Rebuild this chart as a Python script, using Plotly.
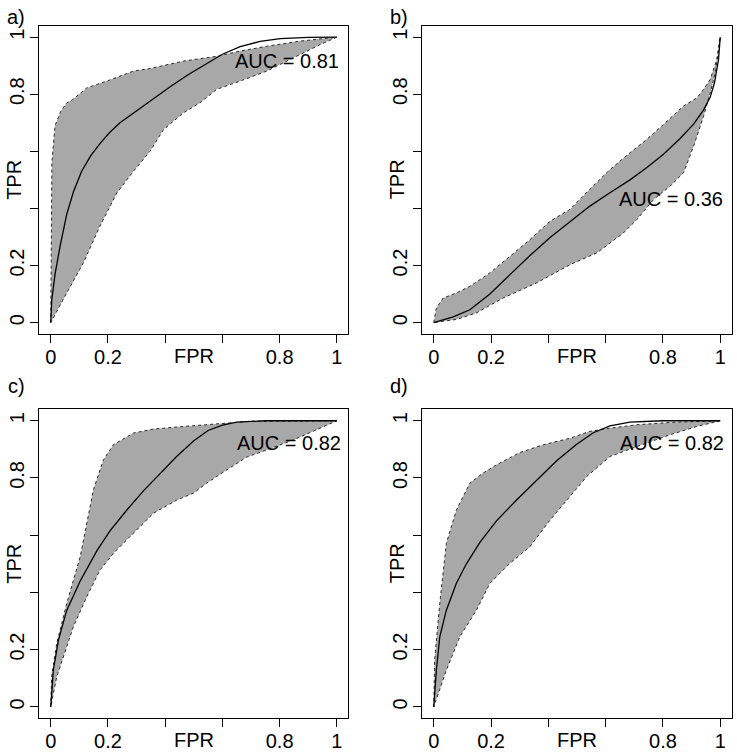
import plotly.graph_objects as go

# ---------------- data ----------------
panel_labels = ["a)", "b)", "c)", "d)"]
auc_text = ["AUC = 0.81", "AUC = 0.36", "AUC = 0.82", "AUC = 0.82"]
auc_x = [0.826, 0.828, 0.831, 0.831]
auc_y = [0.918, 0.434, 0.922, 0.922]

tick_vals = [0, 0.2, 0.4, 0.6, 0.8, 1]
tick_text = ["0", "0.2", "", "", "0.8", "1"]
x_title = "FPR"
y_title = "TPR"

# panel a
a_mean_x = [0, 0.0035, 0.015, 0.033, 0.056, 0.08, 0.108, 0.14, 0.172, 0.205, 0.242, 0.3, 0.36, 0.42, 0.48, 0.54, 0.6, 0.662, 0.732, 0.802, 0.9, 1]
a_mean_y = [0, 0.08, 0.17, 0.27, 0.38, 0.46, 0.53, 0.585, 0.627, 0.665, 0.7, 0.742, 0.785, 0.828, 0.868, 0.905, 0.94, 0.967, 0.985, 0.995, 0.999, 1]
a_up_x = [0, 0.004, 0.015, 0.035, 0.056, 0.075, 0.126, 0.196, 0.289, 0.347, 0.464, 0.58, 0.662, 0.755, 0.872, 1]
a_up_y = [0, 0.56, 0.69, 0.74, 0.77, 0.78, 0.822, 0.846, 0.881, 0.89, 0.916, 0.933, 0.951, 0.968, 0.986, 1]
a_lo_x = [0, 0.056, 0.114, 0.172, 0.231, 0.289, 0.347, 0.394, 0.464, 0.522, 0.58, 0.662, 0.755, 0.872, 0.942, 1]
a_lo_y = [0, 0.104, 0.209, 0.338, 0.454, 0.53, 0.6, 0.676, 0.735, 0.77, 0.817, 0.846, 0.881, 0.939, 0.974, 1]

# panel b
b_mean_x = [0, 0.068, 0.126, 0.196, 0.266, 0.336, 0.406, 0.476, 0.545, 0.615, 0.685, 0.744, 0.802, 0.86, 0.907, 0.942, 0.965, 0.98, 0.994, 1]
b_mean_y = [0, 0.02, 0.045, 0.1, 0.168, 0.235, 0.298, 0.355, 0.408, 0.455, 0.5, 0.543, 0.59, 0.645, 0.695, 0.745, 0.79, 0.84, 0.922, 1]
b_up_x = [0, 0.009, 0.033, 0.079, 0.126, 0.196, 0.266, 0.336, 0.406, 0.476, 0.545, 0.615, 0.685, 0.744, 0.802, 0.872, 0.918, 0.942, 0.965, 0.988, 1]
b_up_y = [0, 0.051, 0.086, 0.104, 0.127, 0.174, 0.232, 0.291, 0.355, 0.397, 0.467, 0.536, 0.595, 0.642, 0.694, 0.759, 0.787, 0.817, 0.852, 0.922, 1]
b_lo_x = [0, 0.079, 0.149, 0.242, 0.359, 0.476, 0.569, 0.662, 0.709, 0.767, 0.825, 0.872, 0.907, 0.942, 0.965, 0.983, 1]
b_lo_y = [0, 0.011, 0.034, 0.086, 0.139, 0.203, 0.244, 0.314, 0.361, 0.431, 0.478, 0.525, 0.618, 0.723, 0.805, 0.875, 1]

# panel c
c_mean_x = [0, 0.009, 0.027, 0.056, 0.103, 0.161, 0.207, 0.266, 0.324, 0.382, 0.44, 0.5, 0.55, 0.6, 0.65, 0.75, 1]
c_mean_y = [0, 0.128, 0.233, 0.338, 0.44, 0.545, 0.615, 0.688, 0.755, 0.815, 0.875, 0.93, 0.966, 0.985, 0.995, 1, 1]
c_up_x = [0, 0.003, 0.021, 0.056, 0.103, 0.149, 0.184, 0.219, 0.289, 0.359, 0.464, 0.58, 0.697, 1]
c_up_y = [0, 0.105, 0.222, 0.362, 0.525, 0.758, 0.863, 0.916, 0.957, 0.971, 0.98, 0.99, 0.998, 1]
c_lo_x = [0, 0.021, 0.056, 0.079, 0.126, 0.172, 0.219, 0.289, 0.359, 0.441, 0.499, 0.545, 0.615, 0.685, 0.755, 0.848, 0.93, 1]
c_lo_y = [0, 0.105, 0.21, 0.28, 0.385, 0.478, 0.537, 0.607, 0.677, 0.723, 0.747, 0.782, 0.828, 0.873, 0.898, 0.933, 0.968, 1]

# panel d
d_mean_x = [0, 0.009, 0.021, 0.044, 0.079, 0.114, 0.161, 0.219, 0.289, 0.359, 0.429, 0.499, 0.557, 0.615, 0.685, 0.8, 1]
d_mean_y = [0, 0.128, 0.245, 0.338, 0.432, 0.5, 0.575, 0.65, 0.723, 0.793, 0.86, 0.918, 0.958, 0.982, 0.995, 1, 1]
d_up_x = [0, 0.003, 0.021, 0.044, 0.079, 0.126, 0.172, 0.219, 0.301, 0.382, 0.476, 0.545, 0.615, 0.709, 0.825, 1]
d_up_y = [0, 0.163, 0.362, 0.572, 0.688, 0.782, 0.817, 0.846, 0.889, 0.916, 0.939, 0.963, 0.974, 0.986, 0.994, 1]
d_lo_x = [0, 0.044, 0.091, 0.149, 0.196, 0.266, 0.336, 0.406, 0.476, 0.534, 0.615, 0.709, 0.825, 0.918, 1]
d_lo_y = [0, 0.128, 0.245, 0.338, 0.432, 0.502, 0.56, 0.653, 0.735, 0.805, 0.875, 0.91, 0.951, 0.98, 1]

panels = [
    (a_mean_x, a_mean_y, a_up_x, a_up_y, a_lo_x, a_lo_y),
    (b_mean_x, b_mean_y, b_up_x, b_up_y, b_lo_x, b_lo_y),
    (c_mean_x, c_mean_y, c_up_x, c_up_y, c_lo_x, c_lo_y),
    (d_mean_x, d_mean_y, d_up_x, d_up_y, d_lo_x, d_lo_y),
]

# ---------------- layout geometry ----------------
W, H = 737, 753


def px_x(page_x):
    return page_x / W


def px_y(page_y):
    return (H - page_y) / H


box_left = [39.3, 422.3]
box_right = [348.3, 731.7]
box_top = [25.7, 409.3]
box_bot = [334.0, 718.3]
label_y = [17.0, 386.0]
ytitle_x = [14.0, 396.5]

xdoms = [[px_x(box_left[c]), px_x(box_right[c])] for c in range(2)]
ydoms = [[px_y(box_bot[r]), px_y(box_top[r])] for r in range(2)]

FONT = "Liberation Sans, Arial, Helvetica, sans-serif"
FS = 20
FILL = "#a8a8a8"

fig = go.Figure()
layout = dict(
    width=W, height=H, margin=dict(l=0, r=0, t=0, b=0, autoexpand=False),
    paper_bgcolor="white", plot_bgcolor="white",
    showlegend=False, font=dict(family=FONT, size=FS, color="black"),
)
annotations = []

for i, (mx, my, ux, uy, lx, ly) in enumerate(panels):
    row, col = divmod(i, 2)
    n = i + 1
    xa = "x" if n == 1 else f"x{n}"
    ya = "y" if n == 1 else f"y{n}"
    px_ = list(ux) + list(reversed(lx))
    py_ = list(uy) + list(reversed(ly))
    fig.add_trace(go.Scatter(
        x=px_, y=py_, mode="lines", fill="toself", fillcolor=FILL,
        line=dict(color="#2a2a2a", width=1, dash="dot"),
        xaxis=xa, yaxis=ya, hoverinfo="skip"))
    fig.add_trace(go.Scatter(
        x=mx, y=my, mode="lines", line=dict(color="black", width=1.3),
        xaxis=xa, yaxis=ya))
    axcommon = dict(
        range=[-0.04, 1.04], showgrid=False, zeroline=False,
        showline=True, linecolor="black", linewidth=1, mirror=True,
        ticks="outside", ticklen=8, tickcolor="black", tickwidth=1,
        tickvals=tick_vals, ticktext=tick_text, automargin=False,
        tickfont=dict(family=FONT, size=FS, color="black"),
    )
    xkey = "xaxis" if n == 1 else f"xaxis{n}"
    ykey = "yaxis" if n == 1 else f"yaxis{n}"
    layout[xkey] = dict(axcommon, domain=xdoms[col], anchor=ya, ticklabelstandoff=-3)
    layout[ykey] = dict(axcommon, domain=ydoms[row], anchor=xa, tickangle=-90, ticklabelstandoff=-2)

    annotations.append(dict(
        text=x_title, x=0.5, xref=xa, y=px_y(box_bot[row] + 22), yref="paper",
        showarrow=False, xanchor="center", yanchor="middle",
        font=dict(family=FONT, size=FS, color="black")))
    annotations.append(dict(
        text=y_title, x=px_x(ytitle_x[col]), xref="paper", y=0.5, yref=ya,
        showarrow=False, xanchor="center", yanchor="middle", textangle=-90,
        font=dict(family=FONT, size=FS, color="black")))
    annotations.append(dict(
        text=auc_text[i], x=auc_x[i], xref=xa, y=auc_y[i], yref=ya,
        showarrow=False, xanchor="center", yanchor="middle",
        font=dict(family=FONT, size=FS, color="black")))
    annotations.append(dict(
        text=panel_labels[i], x=px_x(box_left[col] - 23), xref="paper",
        y=px_y(label_y[row]), yref="paper", showarrow=False,
        xanchor="center", yanchor="middle",
        font=dict(family=FONT, size=FS, color="black")))

layout["annotations"] = annotations
fig.update_layout(**layout)
# remove the default 8px page margin so the figure fills the window exactly
fig.write_html("out.html", config={"displayModeBar": False},
               post_script="document.body.style.margin='0';")
